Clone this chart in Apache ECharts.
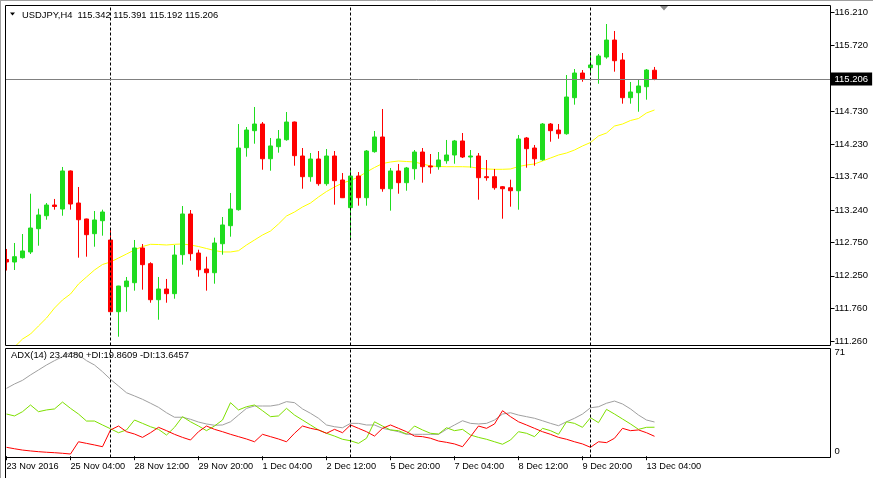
<!DOCTYPE html>
<html><head><meta charset="utf-8">
<script src="https://cdn.jsdelivr.net/npm/echarts@6/dist/echarts.min.js"></script>
<style>html,body{margin:0;padding:0;background:#fff}#c{width:873px;height:478px}</style>
</head><body><div id="c"></div>
<script>
const symbol = 'USDJPY', timeframe = 'H4';
const opens = [112.496,112.458,112.523,112.609,112.959,113.154,113.315,113.255,113.827,113.345,
113.105,112.884,113.079,112.789,111.711,112.087,112.147,112.669,112.433,111.891,
112.052,111.982,112.568,113.180,112.593,112.353,112.297,112.733,113.004,113.245,
114.177,114.433,114.533,114.011,114.192,114.297,114.563,114.052,113.741,114.007,
113.636,114.052,113.691,113.275,113.751,113.425,114.117,114.338,113.560,113.827,
113.651,113.861,114.112,113.902,113.891,113.981,114.067,114.278,114.037,114.052,
113.741,113.741,113.590,113.575,113.530,114.323,114.172,113.996,114.533,114.443,
114.387,114.929,115.300,115.380,115.425,115.541,115.796,115.496,114.929,115.004,
115.094,115.342];
const highs = [112.654,112.744,112.879,113.485,113.260,113.345,113.406,113.887,113.835,113.586,
113.110,113.225,113.245,112.959,112.100,112.233,112.789,112.729,112.454,112.233,
112.203,112.714,113.300,113.240,112.643,112.538,112.824,113.135,113.496,114.533,
114.488,114.789,114.563,114.323,114.443,114.714,114.570,114.172,114.097,114.127,
114.157,114.127,113.796,113.842,113.811,114.142,114.428,114.759,113.872,113.932,
113.887,114.142,114.172,114.082,114.112,114.293,114.293,114.398,114.142,114.097,
113.992,113.857,113.600,113.696,114.368,114.338,114.218,114.548,114.548,114.533,
115.270,115.360,115.345,115.616,115.586,116.037,115.932,115.601,115.165,115.195,
115.360,115.391];
const lows = [112.330,112.338,112.510,112.578,112.703,113.094,113.245,113.154,113.245,112.523,
112.538,112.688,112.854,111.700,111.335,111.711,112.027,112.042,111.846,111.590,
111.846,111.906,112.418,112.478,112.237,112.027,112.132,112.568,112.839,113.230,
114.042,114.237,113.846,113.831,114.102,114.282,113.906,113.560,113.666,113.605,
113.605,113.320,113.420,112.823,113.305,113.305,114.102,113.515,113.230,113.485,
113.530,113.696,113.651,113.786,113.846,113.936,113.936,114.022,113.876,113.395,
113.681,113.545,113.109,113.290,113.245,113.876,113.906,113.981,114.267,114.312,
114.372,114.824,115.169,115.305,115.139,115.515,115.320,114.839,114.839,114.718,
114.899,115.192];
const closes = [112.458,112.538,112.624,112.969,113.165,113.315,113.293,113.827,113.330,113.094,
112.869,113.090,113.210,111.711,112.097,112.172,112.669,112.418,111.891,112.052,
111.982,112.563,113.180,112.583,112.342,112.297,112.744,113.015,113.255,114.172,
114.443,114.533,114.011,114.203,114.308,114.563,114.057,113.741,114.007,113.636,
114.052,113.681,113.425,113.751,113.425,114.127,114.338,113.560,113.827,113.651,
113.872,114.112,113.891,113.887,113.992,114.067,114.278,114.037,114.052,113.726,
113.726,113.575,113.560,113.530,114.308,114.162,114.011,114.533,114.433,114.387,
114.939,115.300,115.215,115.421,115.556,115.796,115.485,114.929,115.015,115.105,
115.345,115.206];
const maValues = [111.060,111.180,111.300,111.375,111.496,111.616,111.766,111.887,111.977,112.127,
112.233,112.338,112.421,112.458,112.518,112.578,112.639,112.691,112.724,112.721,
112.714,112.724,112.729,112.714,112.691,112.661,112.631,112.609,112.609,112.628,
112.714,112.789,112.864,112.924,113.030,113.150,113.210,113.285,113.345,113.436,
113.518,113.586,113.646,113.684,113.736,113.812,113.879,113.939,113.962,113.977,
113.969,113.962,113.932,113.902,113.894,113.891,113.891,113.891,113.887,113.867,
113.857,113.852,113.852,113.857,113.894,113.917,113.932,113.977,114.022,114.067,
114.097,114.142,114.203,114.255,114.353,114.398,114.503,114.533,114.586,114.616,
114.699,114.744];
const adxValues = [46.5,49.5,52.0,55.7,59.1,62.5,65.5,68.2,71.0,69.5,
65.5,62.5,57.9,52.7,48.1,43.5,41.3,39.0,36.3,33.5,
29.8,26.7,26.7,25.3,23.4,22.1,21.2,21.4,23.6,28.2,
32.8,34.4,34.4,34.4,35.3,37.4,36.7,32.4,29.4,26.0,
21.4,20.2,19.5,22.5,22.5,21.4,21.4,19.1,18.0,16.8,
15.0,15.0,15.0,15.0,15.0,18.4,21.4,24.3,22.5,22.1,
22.5,24.8,28.9,29.8,28.2,27.1,26.0,24.3,22.5,20.9,
23.6,26.0,28.9,33.2,33.9,36.3,37.8,35.8,32.4,28.2,
24.8,23.448];
const plusDI = [28.9,27.6,30.5,35.1,30.5,31.7,32.4,37.1,32.8,28.9,
24.1,24.1,21.4,18.8,16.1,18.0,24.8,22.5,20.2,18.4,
14.5,19.8,27.1,23.6,20.7,17.5,20.7,24.8,36.7,31.7,
33.9,35.1,31.2,27.1,27.6,32.8,28.2,24.8,21.4,18.0,
15.7,13.8,11.6,10.6,8.8,12.3,23.6,20.7,18.0,17.5,
15.2,20.7,18.0,15.7,15.2,19.5,17.5,18.4,14.5,12.9,
11.6,9.9,8.2,11.1,16.8,15.7,13.4,19.1,17.5,15.0,
23.6,22.5,19.8,26.4,23.0,32.1,28.9,25.5,22.1,18.4,
19.8,19.8609];
const minusDI = [6.1,5.1,4.2,3.6,3.1,2.7,2.4,2.0,1.5,9.9,
8.8,7.7,6.5,18.0,20.7,16.8,15.2,12.9,16.1,19.8,
17.5,15.0,12.9,11.1,16.8,20.7,18.4,16.8,15.0,13.4,
11.8,9.9,15.0,13.4,11.8,9.9,15.7,20.7,19.1,18.0,
15.7,18.4,16.1,21.4,19.1,16.8,13.8,19.1,21.4,19.1,
16.8,13.8,13.4,12.3,10.4,9.5,8.4,6.5,13.4,20.7,
19.1,22.1,31.2,27.1,23.6,21.4,19.1,16.8,15.0,12.9,
11.6,9.9,8.4,6.1,9.9,9.3,12.3,19.1,17.5,18.0,
16.1,13.6457];
const priceTicks = [111.26,111.76,112.25,112.75,113.24,113.74,114.23,114.73,115.72,116.21];
const adxTopTick = [71];
const adxBottomTick = [0];
const timeLabels = ['23 Nov 2016','25 Nov 04:00','28 Nov 12:00','29 Nov 20:00','1 Dec 04:00',
  '2 Dec 12:00','5 Dec 20:00','7 Dec 04:00','8 Dec 12:00','9 Dec 20:00','13 Dec 04:00'];
const separatorBars = [13, 43, 73];
const totalSlots = 104;
const labelEvery = 8;

const FONT = 'Liberation Sans, Arial, sans-serif';
const cats = Array.from({length: totalSlots}, (_, i) => String(i));
const candleData = opens.map((o, i) => [o, closes[i], lows[i], highs[i]]);
const last = opens.length - 1;
const lastClose = closes[last];
const titleText = symbol + ',' + timeframe + '  ' + opens[last].toFixed(3) + ' ' + highs[last].toFixed(3) + ' ' +
  lows[last].toFixed(3) + ' ' + closes[last].toFixed(3);
const adxText = 'ADX(14) ' + adxValues[last].toFixed(4) + ' +DI:' + plusDI[last].toFixed(4) + ' -DI:' + minusDI[last].toFixed(4);
const isLabel = (i) => i % labelEvery === 0 && i / labelEvery < timeLabels.length;
const sepLines = separatorBars.map(i => ({xAxis: String(i)}));

const chart = echarts.init(document.getElementById('c'), null, {renderer: 'canvas'});
chart.setOption({
  animation: false,
  backgroundColor: '#ffffff',
  grid: [
    {left: 2.5, top: 5.5, width: 832, height: 340, show: false},
    {left: 2.5, top: 348.5, width: 832, height: 109, show: false}
  ],
  xAxis: [
    {type: 'category', gridIndex: 0, data: cats, boundaryGap: true, show: false},
    {type: 'category', gridIndex: 1, data: cats, boundaryGap: true,
     axisLine: {show: false},
     axisTick: {show: true, alignWithLabel: true, interval: isLabel, length: 4, lineStyle: {color: '#000'}},
     axisLabel: {show: true, interval: isLabel, align: 'left', color: '#000', fontSize: 9.2, fontFamily: FONT, margin: 4,
       formatter: (v, i) => isLabel(i) ? timeLabels[i / labelEvery] : ''},
     splitLine: {show: false}}
  ],
  yAxis: [
    {type: 'value', gridIndex: 0, position: 'right', offset: -4, min: 111.2025, max: 116.3153,
     splitLine: {show: false}, axisLine: {show: false},
     axisTick: {show: true, customValues: priceTicks, length: 4, lineStyle: {color: '#000'}},
     axisLabel: {customValues: priceTicks, formatter: v => v.toFixed(3), color: '#000', fontSize: 9.5, fontFamily: FONT, margin: 4}},
    {type: 'value', gridIndex: 1, position: 'right', offset: -4, min: -0.89, max: 73.82,
     splitLine: {show: false}, axisLine: {show: false}, axisTick: {show: false},
     axisLabel: {customValues: adxTopTick, formatter: v => String(v), color: '#000', fontSize: 9.5, fontFamily: FONT, margin: 4}},
    {type: 'value', gridIndex: 1, position: 'right', offset: -4, min: -0.89, max: 73.82,
     splitLine: {show: false}, axisLine: {show: false}, axisTick: {show: false},
     axisLabel: {customValues: adxBottomTick, formatter: v => String(v), verticalAlign: 'bottom', color: '#000', fontSize: 9.5, fontFamily: FONT, margin: 4}}
  ],
  series: [
    {type: 'line', name: 'MA', xAxisIndex: 0, yAxisIndex: 0, data: maValues, showSymbol: false, z: 1,
     lineStyle: {color: '#ffff00', width: 1}, silent: true},
    {type: 'candlestick', name: symbol, xAxisIndex: 0, yAxisIndex: 0, data: candleData, barWidth: 5, z: 2,
     itemStyle: {color: '#1fdc1f', color0: '#ff0000', borderColor: '#1fdc1f', borderColor0: '#ff0000', borderWidth: 1},
     markLine: {silent: true, symbol: ['none', 'none'], animation: false,
       data: [
         ...sepLines.map(d => Object.assign({}, d, {lineStyle: {color: '#000', type: [3, 2], width: 1}, label: {show: false}})),
         {yAxis: lastClose, lineStyle: {color: '#808080', type: 'solid', width: 1},
          label: {show: true, position: 'end', distance: -4, formatter: lastClose.toFixed(3), backgroundColor: '#000',
                  color: '#fff', fontSize: 9.5, fontFamily: FONT, padding: [2, 4, 1, 4]}}
       ]}},
    {type: 'line', name: 'ADX', xAxisIndex: 1, yAxisIndex: 1, data: adxValues, showSymbol: false,
     lineStyle: {color: '#a0a0a0', width: 1}, silent: true,
     markLine: {silent: true, symbol: ['none', 'none'], label: {show: false},
       lineStyle: {color: '#000', type: [3, 2], width: 1}, data: sepLines}},
    {type: 'line', name: '+DI', xAxisIndex: 1, yAxisIndex: 1, data: plusDI, showSymbol: false,
     lineStyle: {color: '#7ee000', width: 1}, silent: true},
    {type: 'line', name: '-DI', xAxisIndex: 1, yAxisIndex: 1, data: minusDI, showSymbol: false,
     lineStyle: {color: '#ff0000', width: 1}, silent: true}
  ],
  graphic: [
    {type: 'rect', z: 50, silent: true, shape: {x: 1.5, y: 2, width: 3.5, height: 476}, style: {fill: '#fff'}},
    {type: 'line', z: 60, silent: true, shape: {x1: 0, y1: 0.5, x2: 873, y2: 0.5}, style: {stroke: '#a0a0a0', lineWidth: 1}},
    {type: 'line', z: 60, silent: true, shape: {x1: 0.5, y1: 0, x2: 0.5, y2: 478}, style: {stroke: '#a0a0a0', lineWidth: 1}},
    {type: 'rect', z: 60, silent: true, shape: {x: 5.5, y: 5.5, width: 825, height: 340}, style: {fill: null, stroke: '#000', lineWidth: 1}},
    {type: 'rect', z: 60, silent: true, shape: {x: 5.5, y: 348.5, width: 825, height: 109}, style: {fill: null, stroke: '#000', lineWidth: 1}},
    {type: 'line', z: 60, silent: true, shape: {x1: 5.5, y1: 457, x2: 5.5, y2: 478}, style: {stroke: '#000', lineWidth: 1}},
    {type: 'polygon', z: 60, silent: true, shape: {points: [[10, 12.5], [15, 12.5], [12.5, 15.5]]}, style: {fill: '#000'}},
    {type: 'polygon', z: 60, silent: true, shape: {points: [[660, 6], [668, 6], [664, 10.5]]}, style: {fill: '#8a8a8a'}},
    {type: 'text', z: 60, silent: true, x: 22, y: 15.5, style: {text: titleText, fill: '#000', font: '9.4px ' + FONT, verticalAlign: 'middle'}},
    {type: 'text', z: 60, silent: true, x: 11, y: 355.5, style: {text: adxText, fill: '#000', font: '9.4px ' + FONT, verticalAlign: 'middle'}}
  ]
});
</script></body></html>
